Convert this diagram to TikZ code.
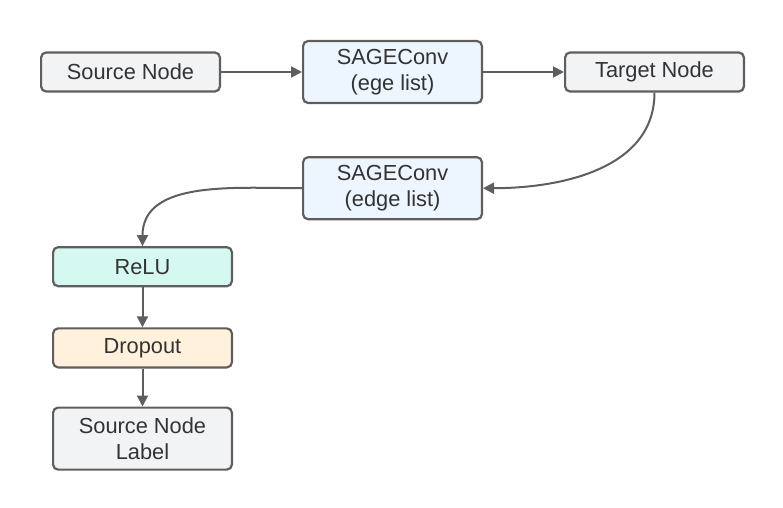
\documentclass[tikz,border=0pt]{standalone}
\usepackage{fontspec}
\setmainfont{Liberation Sans}
\usepackage{tikz}
\usetikzlibrary{arrows.meta,positioning}
\definecolor{lineg}{HTML}{5E5E5E}
\definecolor{txtg}{HTML}{333333}
\definecolor{fillg}{HTML}{F2F3F5}
\definecolor{fillb}{HTML}{EDF5FF}
\definecolor{fillt}{HTML}{D5F8F1}
\definecolor{fillo}{HTML}{FFF1DB}

\begin{document}
\begin{tikzpicture}[x=0.5pt,y=-0.5pt,
      node distance={20pt and 40.5pt},
      box/.style={draw=lineg,line width=1.1pt,fill=fillg,rounded corners=2.5pt,align=center,
                  minimum width=89.4pt,minimum height=19.5pt,inner sep=0pt,
                  text=txtg,font=\fontsize{10.9}{13}\selectfont},
      box2/.style={box,minimum height=31pt},
      arr/.style={-{Triangle[length=5.5pt,width=5.5pt]},line width=1pt,lineg}]
    \useasboundingbox (0,0) rectangle (783,508);
    \node[box] (src) at (130.5,72) {Source Node};
    \node[box2,fill=fillb,right=of src] (conv1) {SAGEConv\\(ege list)};
    \node[box,right=of conv1] (tgt) {Target Node};
    \node[box2,fill=fillb,below=26pt of conv1] (conv2) {SAGEConv\\(edge list)};
    \node[box,fill=fillt] (relu) at (142.5,266.7) {ReLU};
    \node[box,fill=fillo,below=of relu] (drop) {Dropout};
    \node[box2,below=19pt of drop] (lbl) {Source Node\\Label};
    \draw[arr] (src)--(conv1);
    \draw[arr] (conv1)--(tgt);
    \draw[arr] (tgt.south) to[out=-90,in=0] (conv2.east);
    \draw[arr] (conv2.west) to[out=180,in=90] (relu.north);
    \draw[arr] (relu)--(drop);
    \draw[arr] (drop)--(lbl);
  \end{tikzpicture}
\end{document}
